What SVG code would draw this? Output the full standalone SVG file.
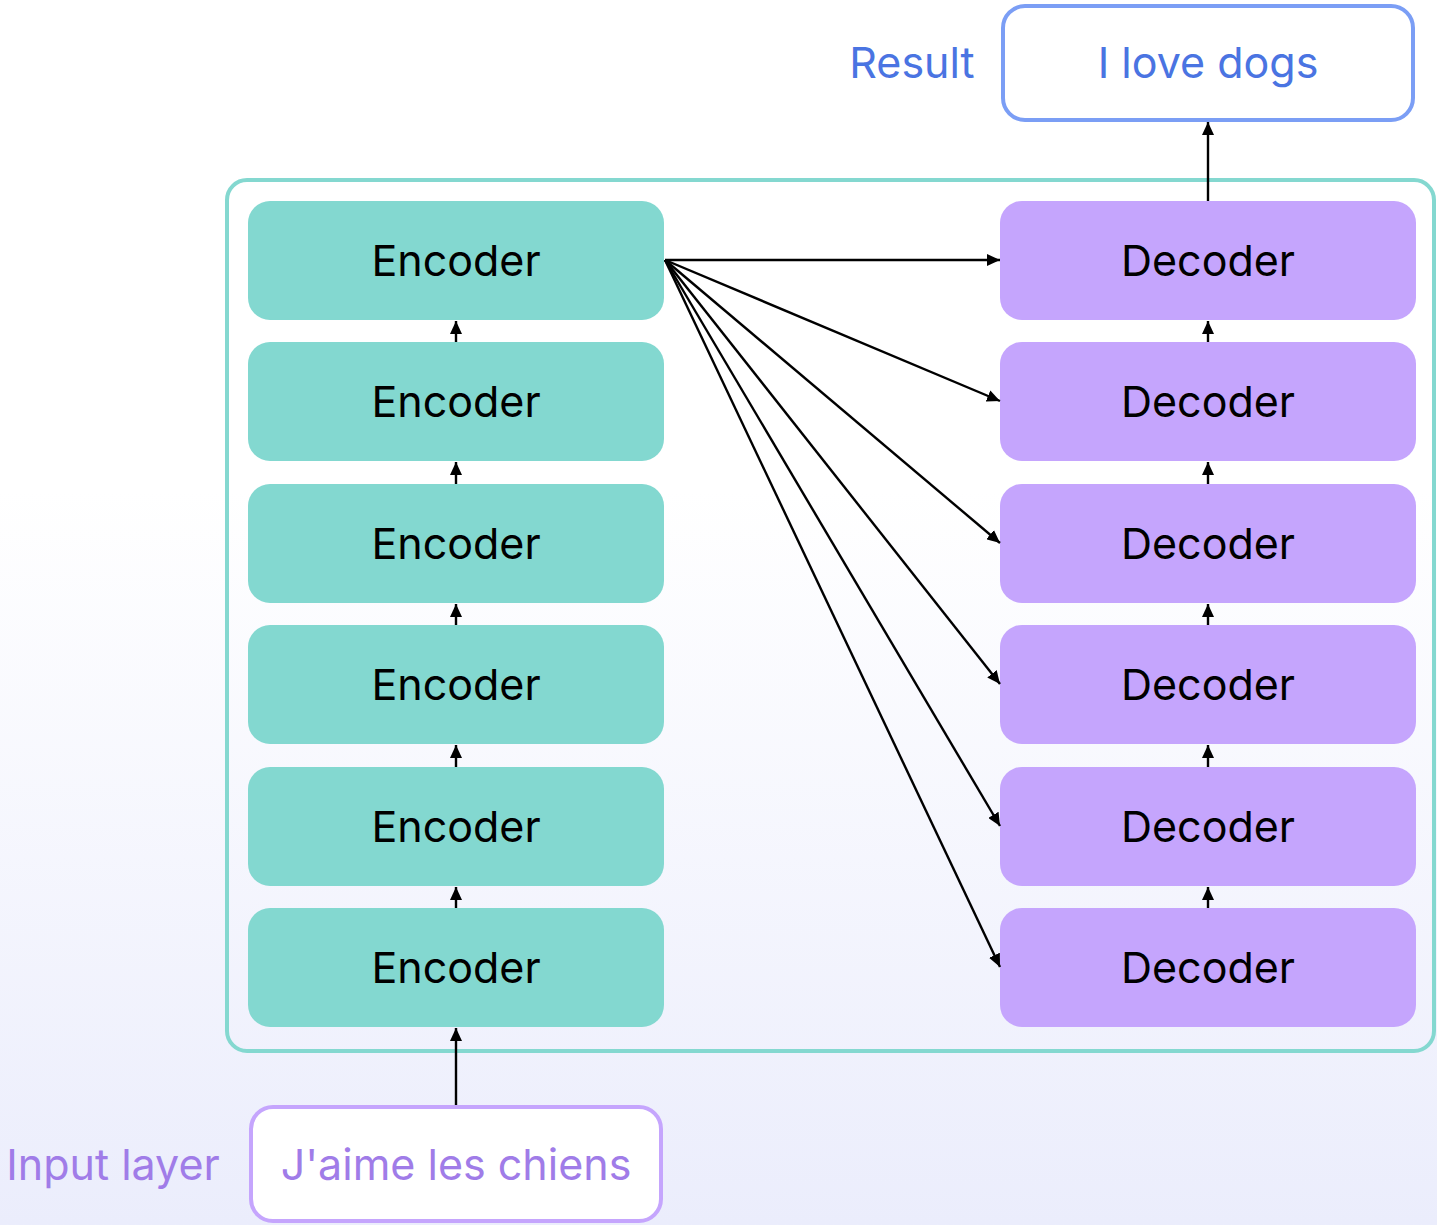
<svg xmlns="http://www.w3.org/2000/svg" width="1437" height="1225" viewBox="0 0 1437 1225">
  <defs>
    <linearGradient id="bg" x1="0" y1="0" x2="0" y2="1">
      <stop offset="0" stop-color="#FFFFFF"/>
      <stop offset="0.4" stop-color="#FFFFFF"/>
      <stop offset="1" stop-color="#EBEDFC"/>
    </linearGradient>
    <marker id="arr" viewBox="0 0 13 12" refX="13" refY="6" markerWidth="13" markerHeight="12" markerUnits="userSpaceOnUse" orient="auto">
      <path d="M0,0 L13,6 L0,12 z" fill="#000"/>
    </marker>
  </defs>
  <style>
    .lbl { font-family: Inter, "Noto Sans", "Liberation Sans", sans-serif; font-size: 43px; text-anchor: middle; }
    .enc rect { fill: #83D8D0; }
    .dec rect { fill: #C5A5FD; }
    .enc text, .dec text { fill: #000; }
    .wire { stroke: #000; stroke-width: 2.4; fill: none; }
  </style>

  <rect x="0" y="0" width="1437" height="1225" fill="url(#bg)"/>

  <!-- model frame -->
  <g id="model">
    <rect x="227" y="180" width="1207" height="871" rx="20" fill="none" stroke="#84D8D0" stroke-width="4"/>
  </g>

  <!-- encoder stack -->
  <g id="encoder1" class="enc"><rect x="248" y="201" width="416" height="119" rx="22"/><text class="lbl" x="456" y="276">Encoder</text></g>
  <g id="encoder2" class="enc"><rect x="248" y="342" width="416" height="119" rx="22"/><text class="lbl" x="456" y="417">Encoder</text></g>
  <g id="encoder3" class="enc"><rect x="248" y="484" width="416" height="119" rx="22"/><text class="lbl" x="456" y="559">Encoder</text></g>
  <g id="encoder4" class="enc"><rect x="248" y="625" width="416" height="119" rx="22"/><text class="lbl" x="456" y="700">Encoder</text></g>
  <g id="encoder5" class="enc"><rect x="248" y="767" width="416" height="119" rx="22"/><text class="lbl" x="456" y="842">Encoder</text></g>
  <g id="encoder6" class="enc"><rect x="248" y="908" width="416" height="119" rx="22"/><text class="lbl" x="456" y="983">Encoder</text></g>

  <!-- decoder stack -->
  <g id="decoder1" class="dec"><rect x="1000" y="201" width="416" height="119" rx="22"/><text class="lbl" x="1208" y="276">Decoder</text></g>
  <g id="decoder2" class="dec"><rect x="1000" y="342" width="416" height="119" rx="22"/><text class="lbl" x="1208" y="417">Decoder</text></g>
  <g id="decoder3" class="dec"><rect x="1000" y="484" width="416" height="119" rx="22"/><text class="lbl" x="1208" y="559">Decoder</text></g>
  <g id="decoder4" class="dec"><rect x="1000" y="625" width="416" height="119" rx="22"/><text class="lbl" x="1208" y="700">Decoder</text></g>
  <g id="decoder5" class="dec"><rect x="1000" y="767" width="416" height="119" rx="22"/><text class="lbl" x="1208" y="842">Decoder</text></g>
  <g id="decoder6" class="dec"><rect x="1000" y="908" width="416" height="119" rx="22"/><text class="lbl" x="1208" y="983">Decoder</text></g>

  <!-- output -->
  <g id="result">
    <text class="lbl" x="912" y="78" fill="#4A74E2">Result</text>
    <rect x="1003" y="6" width="410" height="114" rx="22" fill="#FFFFFF" stroke="#7B9EF5" stroke-width="4"/>
    <text class="lbl" x="1208" y="78" fill="#4A74E2">I love dogs</text>
  </g>

  <!-- input -->
  <g id="input">
    <text class="lbl" x="113" y="1180" fill="#A07CE8">Input layer</text>
    <rect x="251" y="1107" width="410" height="114" rx="22" fill="#FFFFFF" stroke="#C5A5FD" stroke-width="4"/>
    <text class="lbl" x="456" y="1180" fill="#A07CE8">J'aime les chiens</text>
  </g>

  <!-- connectors -->
  <g id="connectors" class="wire">
    <!-- input into the bottom encoder -->
    <line x1="456" y1="1105" x2="456" y2="1028" marker-end="url(#arr)"/>
    <!-- encoder stack, bottom to top -->
    <line x1="456" y1="908" x2="456" y2="887" marker-end="url(#arr)"/>
    <line x1="456" y1="767" x2="456" y2="745" marker-end="url(#arr)"/>
    <line x1="456" y1="625" x2="456" y2="604" marker-end="url(#arr)"/>
    <line x1="456" y1="484" x2="456" y2="462" marker-end="url(#arr)"/>
    <line x1="456" y1="342" x2="456" y2="321" marker-end="url(#arr)"/>
    <!-- decoder stack, bottom to top -->
    <line x1="1208" y1="908" x2="1208" y2="887" marker-end="url(#arr)"/>
    <line x1="1208" y1="767" x2="1208" y2="745" marker-end="url(#arr)"/>
    <line x1="1208" y1="625" x2="1208" y2="604" marker-end="url(#arr)"/>
    <line x1="1208" y1="484" x2="1208" y2="462" marker-end="url(#arr)"/>
    <line x1="1208" y1="342" x2="1208" y2="321" marker-end="url(#arr)"/>
    <!-- top decoder to result -->
    <line x1="1208" y1="201" x2="1208" y2="122" marker-end="url(#arr)"/>
    <!-- encoder output fanned out to every decoder -->
    <line x1="665" y1="260" x2="1000" y2="260" marker-end="url(#arr)"/>
    <line x1="665" y1="260" x2="1000" y2="401" marker-end="url(#arr)"/>
    <line x1="665" y1="260" x2="1000" y2="543" marker-end="url(#arr)"/>
    <line x1="665" y1="260" x2="1000" y2="684" marker-end="url(#arr)"/>
    <line x1="665" y1="260" x2="1000" y2="826" marker-end="url(#arr)"/>
    <line x1="665" y1="260" x2="1000" y2="967" marker-end="url(#arr)"/>
  </g>
</svg>
